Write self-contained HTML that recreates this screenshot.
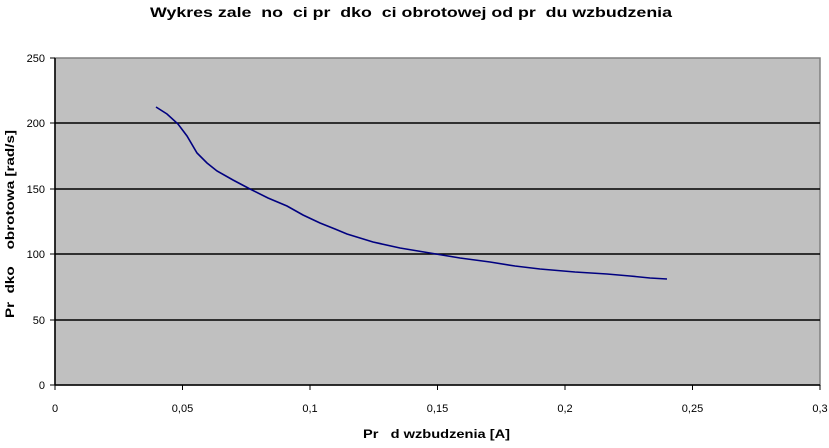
<!DOCTYPE html>
<html><head><meta charset="utf-8"><style>
body{margin:0;background:#fff;width:829px;height:443px;overflow:hidden}
svg text{font-family:"Liberation Sans",Arial,sans-serif;fill:#000;white-space:pre}
</style></head><body>
<svg width="829" height="443" viewBox="0 0 829 443" xml:space="preserve">
<text x="150" y="17" font-size="14" font-weight="bold" textLength="522" lengthAdjust="spacingAndGlyphs">Wykres zale  no  ci pr  dko  ci obrotowej od pr  du wzbudzenia</text>
<rect x="55" y="58" width="765" height="327" fill="#c0c0c0" stroke="#808080" stroke-width="1.5"/>
<g stroke="#000" stroke-width="1.5">
<line x1="55" y1="123" x2="820" y2="123"/>
<line x1="55" y1="189" x2="820" y2="189"/>
<line x1="55" y1="254" x2="820" y2="254"/>
<line x1="55" y1="320" x2="820" y2="320"/>
<line x1="55" y1="58" x2="55" y2="385"/>
<line x1="55" y1="385" x2="820" y2="385"/>
</g>
<g stroke="#000" stroke-width="1">
<line x1="50" y1="58" x2="55" y2="58"/><line x1="50" y1="123" x2="55" y2="123"/><line x1="50" y1="189" x2="55" y2="189"/><line x1="50" y1="254" x2="55" y2="254"/><line x1="50" y1="320" x2="55" y2="320"/><line x1="50" y1="385" x2="55" y2="385"/>
<line x1="55" y1="385" x2="55" y2="390"/><line x1="182.5" y1="385" x2="182.5" y2="390"/><line x1="310" y1="385" x2="310" y2="390"/><line x1="437.5" y1="385" x2="437.5" y2="390"/><line x1="565" y1="385" x2="565" y2="390"/><line x1="692.5" y1="385" x2="692.5" y2="390"/><line x1="820" y1="385" x2="820" y2="390"/>
</g>
<g font-size="11" text-anchor="end">
<text x="45" y="62">250</text><text x="45" y="127">200</text><text x="45" y="193">150</text><text x="45" y="258">100</text><text x="45" y="324">50</text><text x="45" y="389">0</text>
</g>
<g font-size="11" text-anchor="middle">
<text x="55" y="412">0</text><text x="182.5" y="412">0,05</text><text x="310" y="412">0,1</text><text x="437.5" y="412">0,15</text><text x="565" y="412">0,2</text><text x="692.5" y="412">0,25</text><text x="820" y="412">0,3</text>
</g>
<text x="363" y="438" font-size="12" font-weight="bold" textLength="147" lengthAdjust="spacingAndGlyphs">Pr   d wzbudzenia [A]</text>
<text transform="translate(14,318) rotate(-90)" font-size="12" font-weight="bold" textLength="188" lengthAdjust="spacingAndGlyphs">Pr  dko    obrotowa [rad/s]</text>
<polyline fill="none" stroke="#000080" stroke-width="1.6" points="156,107 167,114 178,124 187,136 197,153 207,163 217,171 233,180 250,189 268,198 287,206 303,215 320,223 335,229 347,234 360,238 373,242 400,248 430,253 460,258 490,262 515,266 540,269 575,272 607,274 630,276 650,278 667,279"/>
</svg>
</body></html>
